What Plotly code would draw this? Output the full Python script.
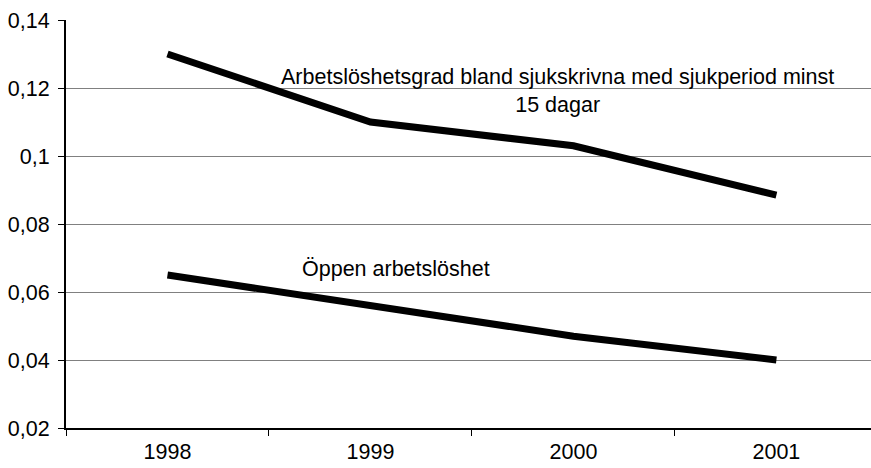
import plotly.graph_objects as go

years = ["1998", "1999", "2000", "2001"]
sjuk = [0.130, 0.110, 0.103, 0.0885]
oppen = [0.065, 0.056, 0.047, 0.040]
ytick_vals = [0.02, 0.04, 0.06, 0.08, 0.10, 0.12, 0.14]
ytick_text = ["0,02", "0,04", "0,06", "0,08", "0,1", "0,12", "0,14"]
label_sjuk = "Arbetslöshetsgrad bland sjukskrivna med sjukperiod minst<br>15 dagar"
label_oppen = "Öppen arbetslöshet"

tick_font = dict(family="Liberation Sans, Arial, sans-serif", size=21.5, color="black")
ann_font = dict(family="Liberation Sans, Arial, sans-serif", size=21.5, color="black")

fig = go.Figure()
fig.add_trace(go.Scatter(x=years, y=sjuk, mode="lines",
                         line=dict(color="black", width=7), showlegend=False))
fig.add_trace(go.Scatter(x=years, y=oppen, mode="lines",
                         line=dict(color="black", width=7), showlegend=False))

fig.add_annotation(x=1.919, y=0.1191, xref="x", yref="y", text=label_sjuk,
                   showarrow=False, font=ann_font, align="center")
fig.add_annotation(x=1.126, y=0.0668, xref="x", yref="y", text=label_oppen,
                   showarrow=False, font=ann_font, align="center")

fig.update_layout(
    width=871, height=468,
    margin=dict(l=66, r=0, t=20, b=40, autoexpand=False),
    paper_bgcolor="white", plot_bgcolor="white",
    font=tick_font,
    showlegend=False,
)
fig.update_xaxes(
    type="category", range=[-0.5, 3.466],
    showline=True, linecolor="black", linewidth=2,
    ticks="outside", tickson="boundaries", ticklen=6, tickcolor="black", tickwidth=1,
    showgrid=False, zeroline=False, tickfont=tick_font, automargin=False,
    ticklabelstandoff=3,
)
fig.update_yaxes(
    range=[0.02, 0.14], tickvals=ytick_vals, ticktext=ytick_text,
    showline=True, linecolor="black", linewidth=2,
    ticks="outside", ticklen=6, tickcolor="black", tickwidth=1,
    showgrid=True, gridcolor="#808080", gridwidth=1,
    zeroline=False, tickfont=tick_font, automargin=False,
    ticklabelstandoff=4,
)

fig.write_html("out.html", config={"displayModeBar": False},
               post_script="document.body.style.margin='0';")
